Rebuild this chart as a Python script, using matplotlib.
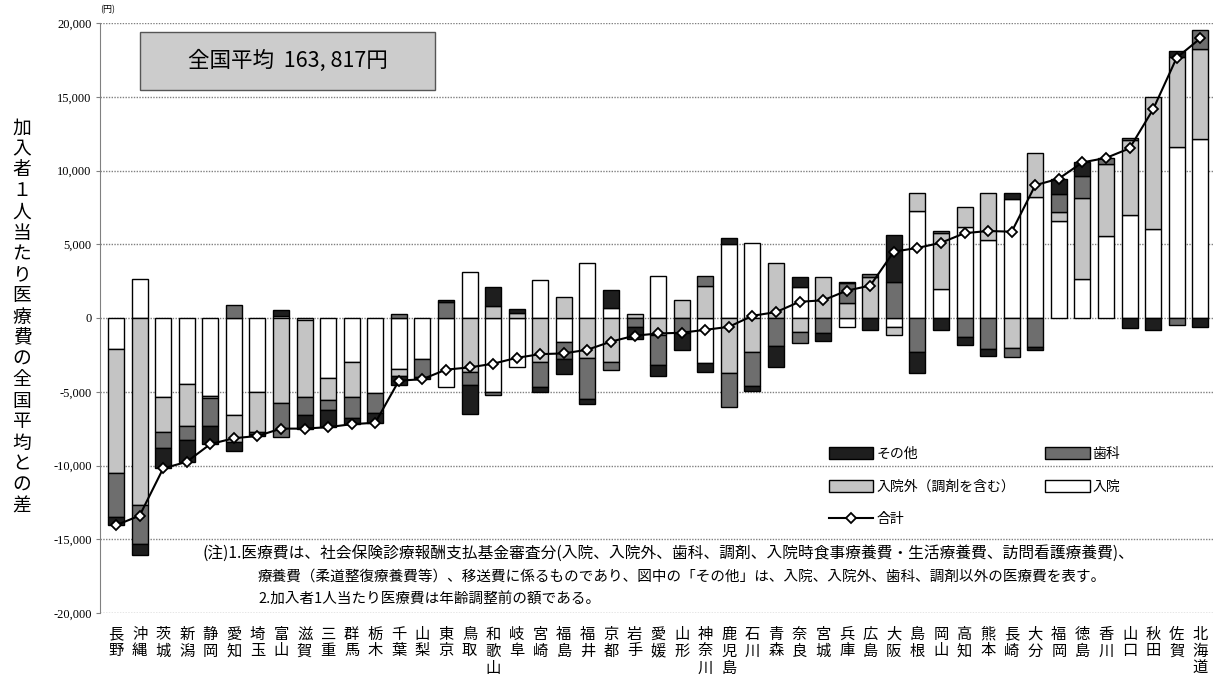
import numpy as np
import matplotlib
matplotlib.use("Agg")
import matplotlib.pyplot as plt
from matplotlib.patches import Patch, Rectangle
from matplotlib.lines import Line2D

plt.rcParams['font.family'] = ['Noto Sans CJK JP', 'DejaVu Sans']

pref = ["長野", "沖縄", "茨城", "新潟", "静岡", "愛知", "埼玉", "富山", "滋賀", "三重",
        "群馬", "栃木", "千葉", "山梨", "東京", "鳥取", "和歌山", "岐阜", "宮崎", "福島",
        "福井", "京都", "岩手", "愛媛", "山形", "神奈川", "鹿児島", "石川", "青森", "奈良",
        "宮城", "兵庫", "広島", "大阪", "島根", "岡山", "高知", "熊本", "長崎", "大分",
        "福岡", "徳島", "香川", "山口", "秋田", "佐賀", "北海道"]

# 全国平均との差（円）
nyuin = [-2100, 2650, -5350, -4500, -5300, -6600, -5050, 150, -150, -4050,
         -2950, -5100, -3450, -2800, -4700, 3150, -5050, -3300, 2600, -1650,
         3700, 700, 0, 2850, 0, -3050, 5000, 5100, 0, 2100,
         0, -600, 0, -600, 7250, 2000, 6200, 5300, 8050, 8200,
         6550, 2650, 5550, 7000, 6050, 11600, 12150]
gaiyo = [-8400, -12700, -2350, -2800, -150, -1800, -2700, -5750, -5200, -1500,
         -2400, 0, -500, 0, 0, -3650, 800, 350, -2950, 1400,
         -2700, -2950, 250, -1150, 1200, 2150, -3700, -2300, 3700, -950,
         2750, 1050, 2750, -550, 1200, 3750, 1350, 3200, -2000, 3000,
         650, 5500, 4900, 5100, 8900, 6100, 6100]
shika = [-3000, -2600, -1100, -1000, -1900, 850, -100, -2300, -1250, -700,
         -1450, -1350, 300, -1200, 1100, -900, -150, 0, -1700, -1150,
         -2800, -550, -600, -2050, -1000, 700, -2300, -2300, -1900, -750,
         -1050, 1300, 250, 2450, -2300, 150, -1300, -2100, -650, -1950,
         1200, 1450, 400, 100, 0, -450, 1300]
sonota = [-550, -750, -1400, -1450, -1200, -600, -150, 400, -900, -1150,
          -400, -650, -600, -150, 100, -1950, 1300, 250, -400, -1000,
          -350, 1200, -850, -700, -1200, -600, 400, -350, -1400, 700,
          -500, 100, -800, 3200, -1400, -800, -500, -500, 450, -250,
          1050, 950, 0, -700, -800, 400, -600]

fig = plt.figure(figsize=(12.18, 6.75), dpi=100)
ax = fig.add_axes([100/1218, 1-613/675, 1113/1218, 590/675])

x = np.arange(len(pref))
parts = [(nyuin, "入院", "white"),
         (gaiyo, "入院外（調剤を含む）", "#c4c4c4"),
         (shika, "歯科", "#6e6e6e"),
         (sonota, "その他", "#1e1e1e")]
pos_base = np.zeros(len(pref))
neg_base = np.zeros(len(pref))
handles = {}
for vals, name, col in parts:
    v = np.array(vals, float)
    m = v > 0
    ax.bar(x[m], v[m], 0.68, bottom=pos_base[m], color=col, edgecolor="black", linewidth=1.0, zorder=2)
    m = v < 0
    ax.bar(x[m], v[m], 0.68, bottom=neg_base[m], color=col, edgecolor="black", linewidth=1.0, zorder=2)
    pos_base += np.where(v > 0, v, 0)
    neg_base += np.where(v < 0, v, 0)
    handles[name] = Patch(facecolor=col, edgecolor="black", linewidth=1.0)

total = pos_base + neg_base
ax.plot(x, total, color="black", lw=1.5, marker="D", ms=5, mfc="white", mec="black", mew=1.3, zorder=4)
handles["合計"] = Line2D([], [], color="black", lw=1.5, marker="D", ms=5, mfc="white", mec="black", mew=1.3)

ax.set_xlim(-0.68, 46.54)
ax.set_ylim(-20000, 20000)
ax.set_yticks(range(-20000, 20001, 5000))
ax.set_yticklabels([f"{v:,}" for v in range(-20000, 20001, 5000)], family="Liberation Serif", fontsize=9)
ax.set_xticks(x)
ax.set_xticklabels(["\n".join(p) for p in pref], fontsize=11, linespacing=1.0, va="top")
ax.tick_params(axis="x", length=0, pad=9)
ax.tick_params(axis="y", length=3, color="#808080", pad=3)
for s in ["top", "right", "bottom"]:
    ax.spines[s].set_visible(False)
ax.spines["left"].set_linestyle((0, (1, 1)))
ax.spines["left"].set_color("#808080")
ax.yaxis.grid(True, linestyle=(0, (1, 1)), color="#808080", lw=1)
ax.set_axisbelow(True)

# 全国平均の枠
ax.add_patch(Rectangle((0.036, 0.886), 0.265, 0.099, transform=ax.transAxes,
                       facecolor="#cccccc", edgecolor="#555555", lw=1.0, zorder=3))
ax.text(0.1685, 0.935, "全国平均  163, 817円", transform=ax.transAxes,
        ha="center", va="center", fontsize=15.5, zorder=5)

order = ["その他", "入院外（調剤を含む）", "合計", "歯科", "入院"]
ax.legend([handles[k] for k in order], order, loc="upper left",
          bbox_to_anchor=(822/1218, 1-440/675), bbox_transform=fig.transFigure,
          ncol=2, frameon=False, fontsize=10, handlelength=3.2, handleheight=0.9,
          labelspacing=1.35, columnspacing=2.2, borderpad=0, handletextpad=0.2)

fig.text(100/1218, 1-10/675, "(円)", fontsize=6.5, ha="left", va="center")
fig.text(22/1218, 1-317/675, "\n".join("加入者１人当たり医療費の全国平均との差"),
         fontsize=13.5, linespacing=1.0, ha="center", va="center")

fig.text(203/1218, 1-553/675,
         "(注)1.医療費は、社会保険診療報酬支払基金審査分(入院、入院外、歯科、調剤、入院時食事療養費・生活療養費、訪問看護療養費)、",
         fontsize=11.3, ha="left", va="center")
fig.text(258/1218, 1-577/675,
         "療養費（柔道整復療養費等）、移送費に係るものであり、図中の「その他」は、入院、入院外、歯科、調剤以外の医療費を表す。",
         fontsize=10.5, ha="left", va="center")
fig.text(258/1218, 1-600/675, "2.加入者1人当たり医療費は年齢調整前の額である。",
         fontsize=10.5, ha="left", va="center")

fig.savefig("out.png", dpi=100)
